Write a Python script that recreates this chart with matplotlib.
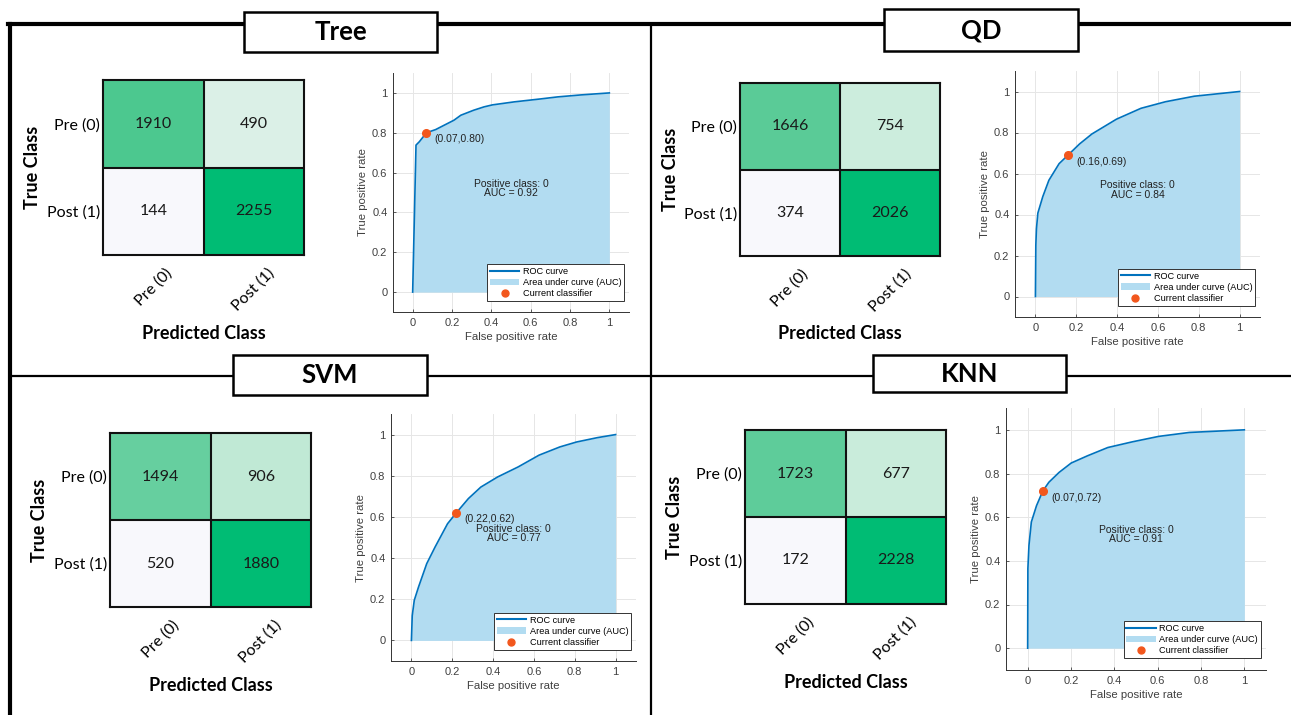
import matplotlib
matplotlib.use("Agg")
import matplotlib.pyplot as plt
from matplotlib.colors import LinearSegmentedColormap, Normalize
from matplotlib.lines import Line2D
from matplotlib.patches import Patch, Rectangle

# ---- data ----
models = ["Tree", "QD", "SVM", "KNN"]
class_labels = ["Pre (0)", "Post (1)"]

cm_tree = [[1910, 490], [144, 2255]]
cm_qd = [[1646, 754], [374, 2026]]
cm_svm = [[1494, 906], [520, 1880]]
cm_knn = [[1723, 677], [172, 2228]]

fpr_tree = [0, 0.017, 0.034, 0.07, 0.117, 0.21, 0.245, 0.31, 0.363, 0.406,
            0.516, 0.652, 0.737, 0.856, 1]
tpr_tree = [0, 0.738, 0.755, 0.80, 0.816, 0.863, 0.888, 0.913, 0.93, 0.94,
            0.955, 0.97, 0.98, 0.99, 1]

fpr_qd = [0, 0.002, 0.005, 0.012, 0.036, 0.066, 0.116, 0.16, 0.216, 0.277,
          0.397, 0.517, 0.637, 0.778, 1]
tpr_qd = [0, 0.25, 0.33, 0.407, 0.487, 0.567, 0.648, 0.69, 0.744, 0.793,
          0.865, 0.918, 0.95, 0.977, 1]

fpr_svm = [0, 0.004, 0.014, 0.035, 0.075, 0.116, 0.177, 0.22, 0.279, 0.34,
           0.422, 0.523, 0.625, 0.727, 0.809, 0.91, 1]
tpr_svm = [0, 0.12, 0.195, 0.26, 0.373, 0.454, 0.567, 0.62, 0.689, 0.745,
           0.794, 0.843, 0.9, 0.94, 0.964, 0.985, 1]

fpr_knn = [0, 0.001, 0.006, 0.017, 0.041, 0.07, 0.098, 0.145, 0.201, 0.276,
           0.37, 0.483, 0.605, 0.746, 1]
tpr_knn = [0, 0.365, 0.471, 0.578, 0.653, 0.72, 0.76, 0.805, 0.848, 0.881,
           0.919, 0.945, 0.97, 0.988, 1]

op_points = [(0.07, 0.80), (0.16, 0.69), (0.22, 0.62), (0.07, 0.72)]
auc_values = [0.92, 0.84, 0.77, 0.91]

W, H = 1291, 715

# panel geometry in pixels: (left, top, right, bottom)
cm_boxes = [(103, 80, 304, 255), (740, 83, 940, 256),
            (110, 433, 311, 607), (745, 430, 946, 604)]
roc_boxes = [(393, 73, 629, 312), (1015, 71, 1260, 317),
             (391, 414, 636, 661), (1006, 408, 1266, 670)]
title_boxes = [(244, 12, 437, 52), (884, 9, 1078, 51),
               (233, 355, 427, 395), (873, 355, 1066, 392)]

green_map = LinearSegmentedColormap.from_list(
    "cm_green",
    [(0.0, "#F8F8FC"), (0.16, "#DCF1E8"), (0.28, "#C1EAD6"),
     (0.72, "#66CF9F"), (0.84, "#4CC88F"), (1.0, "#00BC74")])

ROC_LINE = "#0072BD"
ROC_FILL = "#B2DCF1"
OP_COLOR = "#F2571D"
GREY_TXT = "#404040"


def px_rect(box):
    l, t, r, b = box
    return [l / W, 1 - b / H, (r - l) / W, (b - t) / H]


def draw_confusion(ax, cm):
    flat = [v for row in cm for v in row]
    norm = Normalize(vmin=min(flat), vmax=max(flat))
    ax.imshow(cm, cmap=green_map, norm=norm, aspect="auto")
    for i in range(2):
        for j in range(2):
            ax.text(j, i, str(cm[i][j]), ha="center", va="center",
                    fontsize=11.5, color="#1a1a1a", family="Lato")
    ax.axhline(0.5, color="#111111", lw=1.5)
    ax.axvline(0.5, color="#111111", lw=1.5)
    for s in ax.spines.values():
        s.set_linewidth(1.5)
        s.set_color("#111111")
    ax.set_xticks([0, 1])
    ax.set_yticks([0, 1])
    ax.set_xticklabels(class_labels, rotation=45, fontsize=11.5, family="Lato")
    ax.set_yticklabels(class_labels, fontsize=11.5, family="Lato")
    ax.tick_params(axis="x", length=0, pad=8)
    ax.tick_params(axis="y", length=0, pad=2)
    ax.text(-0.35, 0.5, "True Class", rotation=90, transform=ax.transAxes,
            ha="center", va="center", fontsize=13, fontweight="bold",
            family="Lato")
    ax.text(0.5, -0.45, "Predicted Class", transform=ax.transAxes,
            ha="center", va="center", fontsize=13, fontweight="bold",
            family="Lato")


def draw_roc(ax, fpr, tpr, op, auc):
    ax.fill_between(fpr, tpr, 0, color=ROC_FILL, lw=0, zorder=2)
    ax.plot(fpr, tpr, color=ROC_LINE, lw=1.2, zorder=3)
    ax.plot([op[0]], [op[1]], "o", color=OP_COLOR, ms=5.5, zorder=4)
    ax.text(op[0] + 0.04, op[1] - 0.032, f"({op[0]:.2f},{op[1]:.2f})",
            fontsize=7.5, va="center", ha="left", color="#222222", zorder=5)
    ax.text(0.5, 0.52, f"Positive class: 0\nAUC = {auc:.2f}", fontsize=7.5,
            ha="center", va="center", linespacing=0.95, color="#222222",
            zorder=5)
    ax.set_xlim(-0.1, 1.1)
    ax.set_ylim(-0.1, 1.1)
    ticks = [0, 0.2, 0.4, 0.6, 0.8, 1]
    tick_txt = ["0", "0.2", "0.4", "0.6", "0.8", "1"]
    ax.set_xticks(ticks)
    ax.set_yticks(ticks)
    ax.set_xticklabels(tick_txt)
    ax.set_yticklabels(tick_txt)
    ax.tick_params(direction="in", length=2.5, width=0.6, labelsize=8,
                   colors=GREY_TXT, pad=4)
    ax.grid(True, color="#E6E6E6", lw=0.7, zorder=0)
    ax.set_axisbelow(True)
    for side in ["top", "right"]:
        ax.spines[side].set_visible(False)
    for side in ["left", "bottom"]:
        ax.spines[side].set_linewidth(0.7)
        ax.spines[side].set_color("#333333")
    ax.set_xlabel("False positive rate", fontsize=8.2, color=GREY_TXT,
                  labelpad=3)
    ax.set_ylabel("True positive rate", fontsize=8.2, color=GREY_TXT,
                  labelpad=3)
    handles = [Line2D([], [], color=ROC_LINE, lw=1.5),
               Patch(facecolor=ROC_FILL, edgecolor="none"),
               Line2D([], [], ls="none", marker="o", color=OP_COLOR, ms=5)]
    leg = ax.legend(handles, ["ROC curve", "Area under curve (AUC)",
                              "Current classifier"],
                    loc="lower right", bbox_to_anchor=(0.98, 0.045),
                    borderaxespad=0, fontsize=6.6, fancybox=False,
                    framealpha=1, edgecolor="#333333", handlelength=3.2,
                    handletextpad=0.4, borderpad=0.3, labelspacing=0.25)
    leg.get_frame().set_linewidth(0.7)
    leg.set_zorder(6)


plt.rcParams["font.family"] = ["Liberation Sans", "DejaVu Sans"]
fig = plt.figure(figsize=(W / 100, H / 100), dpi=100)
fig.patch.set_facecolor("white")

# outer frame and dividers
fig.add_artist(Line2D([8 / W, 1], [1 - 24 / H] * 2, color="black", lw=3.0,
                      transform=fig.transFigure, zorder=1))
fig.add_artist(Line2D([9.5 / W] * 2, [1 - 24 / H, 0], color="black", lw=3.0,
                      transform=fig.transFigure, zorder=1))
fig.add_artist(Line2D([651 / W] * 2, [1 - 24 / H, 0], color="black", lw=1.6,
                      transform=fig.transFigure, zorder=1))
fig.add_artist(Line2D([9.5 / W, 1], [1 - 376 / H] * 2, color="black", lw=1.6,
                      transform=fig.transFigure, zorder=1))

matrices = [cm_tree, cm_qd, cm_svm, cm_knn]
fprs = [fpr_tree, fpr_qd, fpr_svm, fpr_knn]
tprs = [tpr_tree, tpr_qd, tpr_svm, tpr_knn]

for k, name in enumerate(models):
    ax_cm = fig.add_axes(px_rect(cm_boxes[k]))
    draw_confusion(ax_cm, matrices[k])
    ax_roc = fig.add_axes(px_rect(roc_boxes[k]))
    draw_roc(ax_roc, fprs[k], tprs[k], op_points[k], auc_values[k])

    l, t, r, b = title_boxes[k]
    fig.add_artist(Rectangle((l / W, 1 - b / H), (r - l) / W, (b - t) / H,
                             transform=fig.transFigure, facecolor="white",
                             edgecolor="black", lw=1.8, zorder=10))
    fig.text((l + r) / 2 / W, 1 - (t + b) / 2 / H, name, ha="center",
             va="center", fontsize=18.5, fontweight="bold", family="Lato",
             zorder=11)

fig.savefig("out.png", dpi=100)
